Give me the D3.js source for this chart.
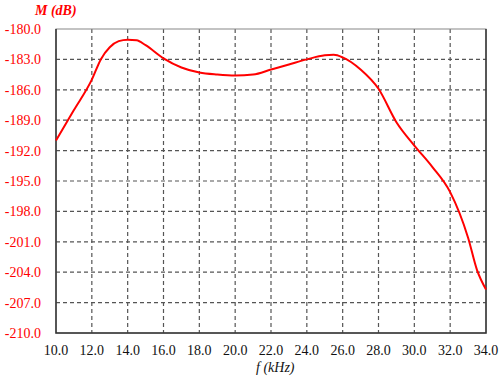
<!DOCTYPE html>
<html>
<head>
<meta charset="utf-8">
<script src="https://cdn.jsdelivr.net/npm/d3@7"></script>
<style>
  body { margin: 0; background: #fff; }
  svg { display: block; }
</style>
</head>
<body>
<div id="container"></div>
<script>
var w = 500;
var h = 378;

// frequency (kHz) and magnitude (dB)
var freq = [10, 11, 12, 12.5, 13, 13.5, 14, 14.5, 15, 16, 17, 18, 19, 20, 21, 22, 23, 24, 25, 25.5, 26, 27, 28, 29, 30, 31, 32, 33, 33.5, 34];
var mag = [-191.0, -188.0, -185.0, -183.0, -181.8, -181.2, -181.05, -181.1, -181.6, -182.9, -183.8, -184.3, -184.5, -184.6, -184.5, -184.0, -183.5, -183.0, -182.6, -182.55, -182.8, -184.0, -185.9, -189.2, -191.5, -193.6, -196.1, -200.6, -203.8, -205.7];

var xTicks = [10, 12, 14, 16, 18, 20, 22, 24, 26, 28, 30, 32, 34];
var yTicks = [-180, -183, -186, -189, -192, -195, -198, -201, -204, -207, -210];

var pLeft = 56, pRight = 486, pTop = 29, pBottom = 333;

var svg = d3.select("div#container").append("svg")
  .attr("width", w)
  .attr("height", h);

var x = d3.scaleLinear().domain([10, 34]).range([pLeft, pRight]);
var y = d3.scaleLinear().domain([-210, -180]).range([pBottom, pTop]);

// grid
svg.append("g")
  .selectAll("line")
  .data(xTicks.slice(1, -1))
  .enter().append("line")
  .attr("x1", function(d) { return x(d); })
  .attr("x2", function(d) { return x(d); })
  .attr("y1", pTop)
  .attr("y2", pBottom)
  .style("stroke", "#555")
  .style("stroke-width", 1.2)
  .style("stroke-dasharray", "4,3");

svg.append("g")
  .selectAll("line")
  .data(yTicks.slice(1, -1))
  .enter().append("line")
  .attr("x1", pLeft)
  .attr("x2", pRight)
  .attr("y1", function(d) { return y(d); })
  .attr("y2", function(d) { return y(d); })
  .style("stroke", "#555")
  .style("stroke-width", 1.2)
  .style("stroke-dasharray", "4,3");

// frame
svg.append("rect")
  .attr("x", pLeft)
  .attr("y", pTop)
  .attr("width", pRight - pLeft)
  .attr("height", pBottom - pTop)
  .style("fill", "none")
  .style("stroke", "#888")
  .style("stroke-width", 1);

svg.append("path")
  .attr("d", "M" + pLeft + "," + pTop + "V" + pBottom + "H" + pRight + "V" + pTop)
  .style("fill", "none")
  .style("stroke", "#333")
  .style("stroke-width", 1.5);

// y tick labels
svg.append("g")
  .selectAll("text")
  .data(yTicks)
  .enter().append("text")
  .attr("x", 41)
  .attr("y", function(d) { return y(d); })
  .attr("dy", "0.35em")
  .attr("text-anchor", "end")
  .style("font-family", "'Liberation Serif', 'Times New Roman', serif")
  .style("font-size", "14px")
  .style("fill", "#ff0000")
  .text(function(d) { return d.toFixed(1); });

// x tick labels
svg.append("g")
  .selectAll("text")
  .data(xTicks)
  .enter().append("text")
  .attr("x", function(d) { return x(d); })
  .attr("y", 355)
  .attr("text-anchor", "middle")
  .style("font-family", "'Liberation Serif', 'Times New Roman', serif")
  .style("font-size", "14px")
  .style("fill", "#111")
  .text(function(d) { return d.toFixed(1); });

// axis titles
svg.append("text")
  .attr("x", 35)
  .attr("y", 15)
  .style("font-family", "'Liberation Serif', 'Times New Roman', serif")
  .style("font-size", "14px")
  .style("font-weight", "bold")
  .style("font-style", "italic")
  .style("fill", "#ff0000")
  .text("M (dB)");

svg.append("text")
  .attr("x", 256)
  .attr("y", 372)
  .style("font-family", "'Liberation Serif', 'Times New Roman', serif")
  .style("font-size", "14px")
  .style("font-style", "italic")
  .style("fill", "#111")
  .text("f (kHz)");

// curve
var line = d3.line()
  .x(function(d) { return x(d[0]); })
  .y(function(d) { return y(d[1]); })
  .curve(d3.curveMonotoneX);

svg.append("path")
  .datum(d3.zip(freq, mag))
  .attr("d", line)
  .style("fill", "none")
  .style("stroke", "#ff0000")
  .style("stroke-width", 2);
</script>
</body>
</html>
